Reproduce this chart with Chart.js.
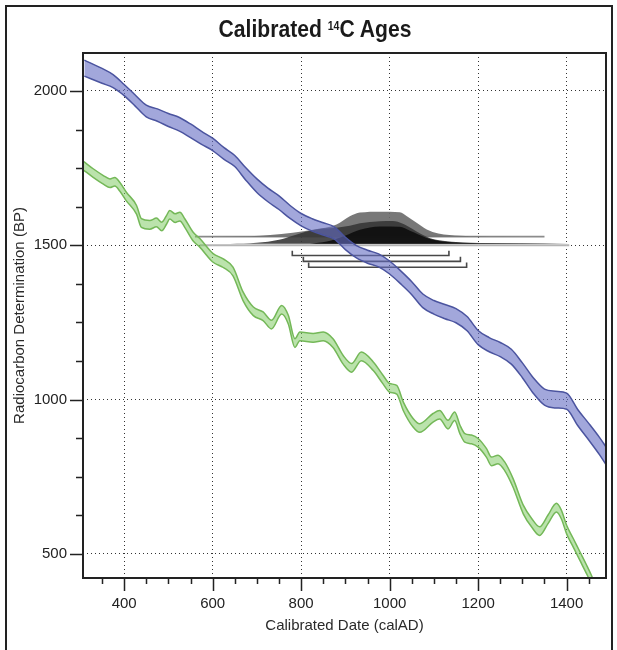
<!DOCTYPE html>
<html>
<head>
<meta charset="utf-8">
<script src="https://cdn.jsdelivr.net/npm/chart.js@4"></script>
<style>
  body { margin: 0; background: #fff; }
  #wrap { position: relative; width: 617px; height: 650px; overflow: hidden; }
  #frame { position: absolute; left: 5px; top: 5px; width: 608px; height: 720px; border: 2px solid #222; box-sizing: border-box; pointer-events: none; }
  #title { position: absolute; left: 0; top: 15px; width: 630px; text-align: center; line-height: 24px;
           font: bold 24px "Liberation Sans", Arial, sans-serif; color: #1a1a1a;
           transform: scaleX(0.88); transform-origin: 315px 0; }
  #title sup { font-size: 12px; vertical-align: 7px; line-height: 0; }
  canvas { position: absolute; left: 0; top: 0; }
</style>
</head>
<body>
<div id="wrap">
  <canvas id="c" width="617" height="650"></canvas>
  <div id="frame"></div>
  <div id="title">Calibrated <sup>14</sup>C Ages</div>
</div>
<script>
// calibration curve (blue), calAD -> BP centre and half width
const blueYears = [310,350,375,400,425,450,475,500,525,550,575,600,625,650,675,700,725,750,775,800,825,850,875,900,
                   925,950,975,1000,1025,1050,1075,1100,1125,1150,1175,1200,1225,1250,1275,1300,1325,1350,1375,1400,1425,1450,1475,1490];
const blueMid   = [2074,2049,2032,2003,1969,1935,1922,1906,1892,1871,1848,1827,1798,1773,1731,1693,1663,1638,1608,1583,1566,1553,1540,1506,
                   1479,1463,1451,1428,1396,1361,1320,1299,1285,1272,1246,1201,1178,1162,1139,1095,1045,1008,1000,995,942,896,848,816];
const blueErr   = [26,24,21,18,18,19,20,21,22,22,21,20,19,18,20,22,22,22,21,20,20,20,20,20,
                   20,21,21,21,21,21,22,22,23,23,23,23,23,23,24,24,25,26,27,26,26,27,28,29];

// second curve (green)
const greenYears = [309,330,353,368,379,390,405,428,439,458,473,485,496,503,515,526,537,556,571,601,624,646,669,692,714,733,
                    756,771,786,797,827,850,872,895,914,936,963,985,1000,1016,1031,1053,1068,1098,1113,1132,1147,1159,1170,1185,
                    1200,1219,1230,1245,1260,1279,1302,1321,1339,1358,1377,1388,1400,1415,1430,1445,1456,1470];
const greenMid   = [1757,1734,1712,1701,1706,1690,1658,1615,1572,1566,1574,1561,1583,1599,1588,1593,1572,1528,1508,1459,1442,1415,1334,1286,1270,1243,
                    1291,1259,1183,1205,1200,1205,1183,1129,1103,1140,1108,1065,1038,1032,978,925,908,941,951,919,946,903,876,871,
                    860,827,800,806,784,730,644,601,574,612,650,628,579,536,493,450,417,370];
const greenErr = 14;

// probability distributions (height above their baseline, BP units)
const outerBase = 1528;
const outerYears  = [560,684,730,781,830,880,910,933,978,1023,1039,1061,1084,1110,1160,1250,1350];
const outerHeight = [0,1.6,5,13,23,39,66,78,81,79,66,45,23,10,3,0.6,0];
const innerBase = 1505;
const midYears   = [640,700,750,781,810,850,880,910,933,978,1007,1030,1050,1070,1090,1120,1160,1250,1350,1406];
const midHeight  = [0,3,13,26,39,49,52,58,66,73,74,65,49,32,19,10,5,2.3,1.6,0];
const coreYears  = [820,858,899,933,978,1023,1046,1084,1125,1204,1294];
const coreHeight = [0,7,26,45,56,55,42,19,6.5,1.6,0];

// baseline lines of the distributions
const lineOuter = { from: 560, to: 1350, bp: 1528 };
const lineInner = { from: 571, to: 1406, bp: 1500 };

// range brackets
const rangeFrom = [780, 805, 817];
const rangeTo   = [1134, 1160, 1174];
const rangeBP   = [1467, 1448, 1429];
const rangeTick = 15;

// axes
const xMajor = [400,600,800,1000,1200,1400];
const xMarks = [350,400,450,500,550,600,650,700,750,800,850,900,950,1000,1050,1100,1150,1200,1250,1300,1350,1400,1450];
const yMajor = [500,1000,1500,2000];
const yMarks = [500,625,750,875,1000,1125,1250,1375,1500,1625,1750,1875,2000];

const pts = (xs, ys) => xs.map((v, i) => ({ x: v, y: ys[i] }));
const line = (data, color, width, extra) => Object.assign({
  data, borderColor: color, borderWidth: width, pointRadius: 0, fill: false,
  cubicInterpolationMode: 'monotone'
}, extra || {});

const datasets = [
  line(pts(blueYears, blueMid.map((m, i) => m - blueErr[i])), '#4b549f', 1.5),
  line(pts(blueYears, blueMid.map((m, i) => m + blueErr[i])), '#4b549f', 1.5,
       { fill: '-1', backgroundColor: 'rgba(100,108,195,0.6)' }),
  line(pts(greenYears, greenMid.map(m => m - greenErr)), '#74b858', 1.5),
  line(pts(greenYears, greenMid.map(m => m + greenErr)), '#74b858', 1.5,
       { fill: '-1', backgroundColor: 'rgba(120,200,90,0.5)' })
];
rangeFrom.forEach((f, i) => {
  datasets.push(line([
    { x: f, y: rangeBP[i] + rangeTick }, { x: f, y: rangeBP[i] },
    { x: rangeTo[i], y: rangeBP[i] }, { x: rangeTo[i], y: rangeBP[i] + rangeTick }
  ], '#484848', 1.6, { cubicInterpolationMode: 'default', tension: 0 }));
});
datasets.push(
  line(pts(coreYears, coreHeight.map(h => innerBase + h)), '#141414', 0,
       { fill: { value: innerBase }, backgroundColor: 'rgba(15,15,15,0.92)' }),
  line(pts(midYears, midHeight.map(h => innerBase + h)), '#3d3d3d', 0,
       { fill: { value: innerBase }, backgroundColor: 'rgba(55,55,55,0.9)' }),
  line(pts(outerYears, outerHeight.map(h => outerBase + h)), '#737373', 0,
       { fill: { value: outerBase }, backgroundColor: 'rgba(105,105,105,0.9)' }),
  line([{ x: lineOuter.from, y: lineOuter.bp }, { x: lineOuter.to, y: lineOuter.bp }], '#8c8c8c', 1.6),
  line([{ x: lineInner.from, y: lineInner.bp }, { x: lineInner.to, y: lineInner.bp }], '#b4b4b4', 2)
);

const frameTicks = {
  id: 'frameTicks',
  afterDraw(chart) {
    const { ctx, chartArea: a, scales: { x, y } } = chart;
    ctx.save();
    ctx.strokeStyle = '#222';
    ctx.lineWidth = 1.5;
    ctx.beginPath();
    xMarks.forEach(v => {
      const p = Math.round(x.getPixelForValue(v)) + 0.5;
      ctx.moveTo(p, a.bottom);
      ctx.lineTo(p, a.bottom + (xMajor.includes(v) ? 13 : 6));
    });
    yMarks.forEach(v => {
      const p = Math.round(y.getPixelForValue(v)) + 0.5;
      ctx.moveTo(a.left, p);
      ctx.lineTo(a.left - (yMajor.includes(v) ? 13 : 7), p);
    });
    ctx.stroke();
    ctx.lineWidth = 2;
    ctx.strokeRect(a.left, a.top, a.right - a.left, a.bottom - a.top);
    ctx.restore();
  }
};

const tickFont = { family: 'Liberation Sans', size: 15 };
const plain = v => String(v);

new Chart(document.getElementById('c'), {
  type: 'line',
  data: { datasets },
  plugins: [frameTicks],
  options: {
    responsive: false,
    animation: false,
    events: [],
    layout: { padding: { left: 0, right: 11, top: 53, bottom: 0 } },
    plugins: { legend: { display: false }, tooltip: { enabled: false }, title: { display: false } },
    scales: {
      x: {
        type: 'linear', min: 307, max: 1489,
        afterBuildTicks: s => { s.ticks = xMajor.map(v => ({ value: v })); },
        afterFit: s => { s.height = 72; },
        grid: { color: '#333', lineWidth: 1, drawTicks: false },
        border: { display: false, dash: [1, 3] },
        ticks: { font: tickFont, color: '#222', padding: 17, maxRotation: 0, callback: plain },
        title: { display: true, text: 'Calibrated Date (calAD)', font: tickFont, color: '#2a2a2a',
                 padding: { top: 0, bottom: 15 } }
      },
      y: {
        type: 'linear', min: 422, max: 2123,
        afterBuildTicks: s => { s.ticks = yMajor.map(v => ({ value: v })); },
        afterFit: s => { s.width = 83; },
        grid: { color: '#333', lineWidth: 1, drawTicks: false },
        border: { display: false, dash: [1, 3] },
        ticks: { font: tickFont, color: '#222', padding: 16, callback: plain },
        title: { display: true, text: 'Radiocarbon Determination (BP)', font: tickFont, color: '#2a2a2a',
                 padding: { top: 11, bottom: 0 } }
      }
    }
  }
});
</script>
</body>
</html>
